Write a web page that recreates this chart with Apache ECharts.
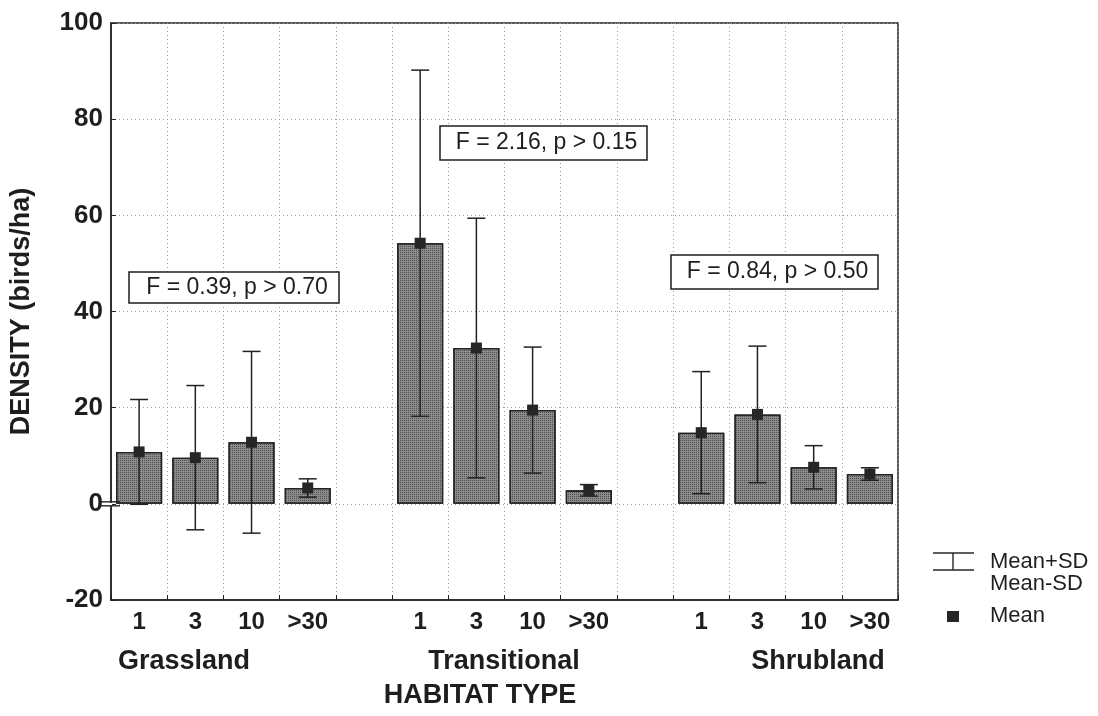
<!DOCTYPE html>
<html>
<head>
<meta charset="utf-8">
<script src="https://cdn.jsdelivr.net/npm/echarts@6/dist/echarts.min.js"></script>
<style>
  html, body { margin: 0; padding: 0; background: #ffffff; }
  #chart { width: 1098px; height: 716px; }
</style>
</head>
<body>
<div id="chart"></div>
<script>
// Bird density (birds/ha) by habitat type and patch size class: mean and SD
var habitats = ['Grassland', 'Transitional', 'Shrubland'];
var sizeLabels = ['1', '3', '10', '>30'];

var grassMean = [10.8, 9.6, 12.8, 3.3];
var grassSD   = [10.9, 15.0, 18.9, 1.9];

var transMean = [54.2, 32.4, 19.5, 2.8];
var transSD   = [36.0, 27.0, 13.1, 1.2];

var shrubMean = [14.8, 18.6, 7.6, 6.2];
var shrubSD   = [12.7, 14.2, 4.5, 1.3];

var fStats = ['F = 0.39, p > 0.70', 'F = 2.16, p > 0.15', 'F = 0.84, p > 0.50'];

var yTicks = [-20, 0, 20, 40, 60, 80, 100];

// Lay the three habitat groups out on one category axis, with an empty slot between groups
var groupMeans = [grassMean, transMean, shrubMean];
var groupSDs = [grassSD, transSD, shrubSD];
var slotKeys = [], slotLabels = [], meanData = [], errData = [];
groupMeans.forEach(function (means, g) {
  if (g > 0) {
    slotKeys.push('gap' + g); slotLabels.push(''); meanData.push(null);
  }
  means.forEach(function (m, i) {
    var idx = slotKeys.length;
    slotKeys.push(habitats[g] + ':' + sizeLabels[i]);
    slotLabels.push(sizeLabels[i]);
    meanData.push(m);
    errData.push([idx, m - groupSDs[g][i], m + groupSDs[g][i]]);
  });
});

var FONT = "'Liberation Sans', Arial, Helvetica, sans-serif";
var INK = '#1e1e1e';

var chart = echarts.init(document.getElementById('chart'), null, { renderer: 'canvas' });

var option = {
  backgroundColor: '#ffffff',
  animation: false,
  grid: {
    left: 110, right: 200, top: 23, bottom: 116,
    show: true, borderColor: '#222', borderWidth: 1.5, backgroundColor: 'transparent'
  },
  xAxis: {
    type: 'category',
    data: slotKeys,
    boundaryGap: true,
    axisLine: { show: true, onZero: false, lineStyle: { color: '#222', width: 1.5 } },
    axisTick: { show: true, inside: true, length: 5, interval: 0, lineStyle: { color: '#222' } },
    axisLabel: {
      interval: 0, margin: 10,
      fontFamily: FONT, fontWeight: 'bold', fontSize: 24, color: INK,
      formatter: function (v, i) { return slotLabels[i]; }
    },
    splitLine: { show: true, interval: 0, lineStyle: { color: '#9a9a9a', type: [1, 3], width: 1 } }
  },
  yAxis: {
    type: 'value',
    min: yTicks[0], max: yTicks[yTicks.length - 1], interval: 20,
    name: 'DENSITY (birds/ha)',
    nameLocation: 'middle',
    nameGap: 76,
    nameTextStyle: { fontFamily: FONT, fontWeight: 'bold', fontSize: 27, color: INK },
    axisLine: { show: true, lineStyle: { color: '#222', width: 1.5 } },
    axisTick: { show: true, inside: true, length: 5, lineStyle: { color: '#222' } },
    axisLabel: { margin: 8, fontFamily: FONT, fontWeight: 'bold', fontSize: 26, color: INK },
    splitLine: { show: true, lineStyle: { color: '#9a9a9a', type: [1, 3], width: 1 } }
  },
  series: [
    {
      name: 'Mean bar',
      type: 'bar',
      data: meanData,
      barWidth: '82%',
      itemStyle: {
        color: '#8c8c8c',
        borderColor: '#222',
        borderWidth: 1.3,
        decal: {
          symbol: 'rect',
          symbolSize: 1,
          color: 'rgba(30,30,30,0.55)',
          dashArrayX: [1, 1],
          dashArrayY: [1, 1],
          rotation: 0
        }
      },
      z: 2
    },
    {
      name: 'Mean+SD / Mean-SD',
      type: 'custom',
      data: errData,
      encode: { x: 0, y: [1, 2] },
      renderItem: function (params, api) {
        var x = api.value(0);
        var lo = api.coord([x, api.value(1)]);
        var hi = api.coord([x, api.value(2)]);
        var half = 9;
        var style = { stroke: '#222', lineWidth: 1.5 };
        return {
          type: 'group',
          children: [
            { type: 'line', shape: { x1: hi[0], y1: hi[1], x2: lo[0], y2: lo[1] }, style: style },
            { type: 'line', shape: { x1: hi[0] - half, y1: hi[1], x2: hi[0] + half, y2: hi[1] }, style: style },
            { type: 'line', shape: { x1: lo[0] - half, y1: lo[1], x2: lo[0] + half, y2: lo[1] }, style: style }
          ]
        };
      },
      z: 3
    },
    {
      name: 'Mean',
      type: 'scatter',
      data: meanData,
      symbol: 'rect',
      symbolSize: 11,
      itemStyle: { color: '#262626', opacity: 1 },
      z: 4
    }
  ]
};

chart.setOption(option);

// Annotations, group names, legend and the axis break are drawn as graphic elements
var zeroY = chart.convertToPixel({ yAxisIndex: 0 }, 0);
var axisX = 110;

function statBox(x, y, w, h, text) {
  return {
    type: 'group', x: x, y: y, z: 10,
    children: [
      { type: 'rect', shape: { x: 0, y: 0, width: w, height: h },
        style: { fill: '#ffffff', stroke: '#1e1e1e', lineWidth: 1.5 } },
      { type: 'text', x: w / 2 + 3, y: h / 2,
        style: { text: text, fontFamily: FONT, fontSize: 23, fill: INK, align: 'center', verticalAlign: 'middle' } }
    ]
  };
}

function label(x, y, text, size, align) {
  return { type: 'text', x: x, y: y, z: 10,
    style: { text: text, fontFamily: FONT, fontWeight: 'bold', fontSize: size, fill: INK,
             align: align || 'center', verticalAlign: 'middle' } };
}

function legendText(x, y, text) {
  return { type: 'text', x: x, y: y, z: 10,
    style: { text: text, fontFamily: FONT, fontSize: 22, fill: INK, align: 'left', verticalAlign: 'middle' } };
}

var lineStyle = { stroke: '#262626', lineWidth: 1.4 };

chart.setOption({
  graphic: [
    statBox(129, 272, 210, 31, fStats[0]),
    statBox(440, 126, 207, 34, fStats[1]),
    statBox(671, 255, 207, 34, fStats[2]),

    label(184, 662, habitats[0], 27),
    label(504, 662, habitats[1], 27),
    label(818, 662, habitats[2], 27),
    label(480, 696, 'HABITAT TYPE', 27),

    // axis break at zero
    { type: 'rect', z: 20, shape: { x: axisX - 2, y: zeroY - 1, width: 4, height: 3 }, style: { fill: '#ffffff' } },
    { type: 'line', z: 21, shape: { x1: axisX - 10, y1: zeroY - 2, x2: axisX + 10, y2: zeroY - 2 }, style: { stroke: '#222', lineWidth: 1.4 } },
    { type: 'line', z: 21, shape: { x1: axisX - 10, y1: zeroY + 2, x2: axisX + 10, y2: zeroY + 2 }, style: { stroke: '#222', lineWidth: 1.4 } },

    // legend
    { type: 'line', z: 10, shape: { x1: 933, y1: 553, x2: 974, y2: 553 }, style: lineStyle },
    { type: 'line', z: 10, shape: { x1: 953, y1: 553, x2: 953, y2: 570 }, style: lineStyle },
    { type: 'line', z: 10, shape: { x1: 933, y1: 570, x2: 974, y2: 570 }, style: lineStyle },
    legendText(990, 562, 'Mean+SD'),
    legendText(990, 584, 'Mean-SD'),
    { type: 'rect', z: 10, shape: { x: 947, y: 611, width: 12, height: 11 }, style: { fill: '#262626' } },
    legendText(990, 616, 'Mean')
  ]
});
</script>
</body>
</html>
